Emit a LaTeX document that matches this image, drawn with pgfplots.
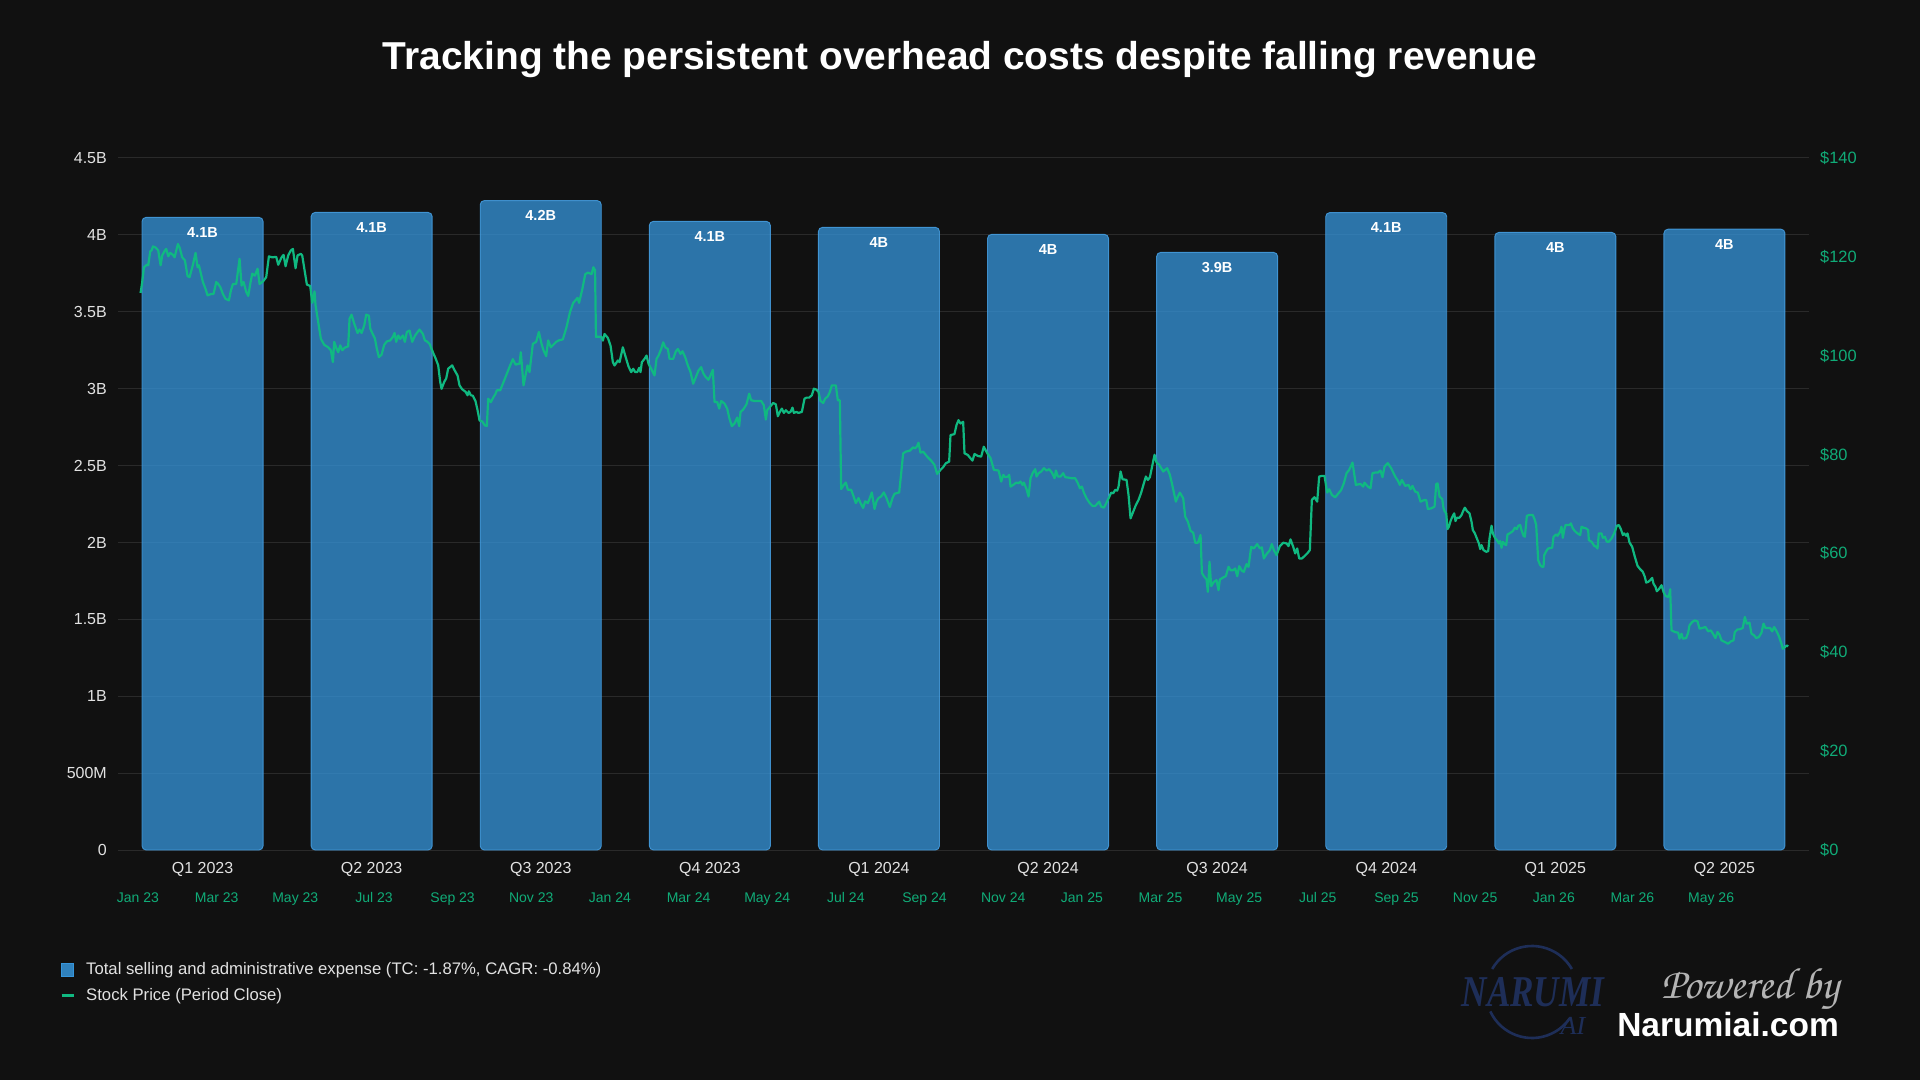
\documentclass[border=0pt]{standalone}
\usepackage{fontspec}
\setmainfont{Liberation Sans}
\newfontfamily\poweredfont{TeX Gyre Chorus}
\newfontfamily\logofont{Liberation Serif}
\usepackage{pgfplots}
\pgfplotsset{compat=1.18}
\usepackage{pgfplotstable}

\definecolor{bg}{HTML}{111111}
\definecolor{gridc}{HTML}{2A2A2A}
\definecolor{barfill}{RGB}{54,150,220}
\definecolor{baredge}{RGB}{70,160,228}
\definecolor{price}{HTML}{10B981}
\definecolor{pricelabel}{RGB}{16,172,120}
\definecolor{ticktext}{HTML}{E2E2E2}
\definecolor{navy}{RGB}{30,46,88}
\definecolor{powered}{HTML}{B4B4B4}

% Daily closing price; x is months since January 2023
\pgfplotstableread{
m p
0.066 112.7
0.108 114.9
0.151 117.9
0.227 118.4
0.261 118.3
0.312 121.1
0.346 121.3
0.380 122.1
0.447 121.9
0.515 121.3
0.575 118.3
0.617 120.3
0.685 121.3
0.719 121.6
0.770 120.1
0.820 120.8
0.888 120.4
0.931 119.9
1.015 122.6
1.058 121.9
1.125 119.9
1.193 119.3
1.261 116.1
1.312 115.9
1.397 118.4
1.464 120.8
1.515 117.9
1.549 118.3
1.651 114.9
1.719 113.5
1.769 112.2
1.863 112.5
1.922 112.5
1.990 114.9
2.041 114.5
2.092 113.9
2.159 112.5
2.227 111.5
2.312 111.2
2.363 113.2
2.414 114.5
2.498 114.5
2.583 119.6
2.634 114.2
2.685 114.9
2.753 112.9
2.804 112.1
2.854 114.5
2.905 116.6
2.973 116.2
3.041 117.6
3.092 114.5
3.176 115.0
3.261 115.9
3.329 120.1
3.414 119.9
3.515 120.0
3.566 118.4
3.651 119.9
3.702 120.4
3.753 118.1
3.820 120.3
3.888 121.3
3.939 121.6
4.007 117.7
4.058 120.3
4.142 120.6
4.176 120.3
4.244 116.9
4.295 114.4
4.380 114.1
4.431 110.7
4.490 113.0
4.515 110.2
4.583 106.8
4.651 103.4
4.736 102.2
4.837 101.7
4.905 101.1
4.956 98.7
4.990 102.8
5.041 101.6
5.092 100.7
5.142 102.1
5.193 101.1
5.253 101.6
5.345 101.9
5.380 107.5
5.431 108.3
5.498 106.5
5.583 104.6
5.634 105.3
5.685 104.6
5.753 106.1
5.803 108.3
5.871 108.1
5.905 105.5
5.956 104.6
6.024 103.5
6.074 101.4
6.125 99.7
6.193 100.2
6.261 102.2
6.329 102.9
6.414 103.1
6.481 103.8
6.524 104.6
6.566 102.8
6.617 104.1
6.668 103.4
6.736 104.1
6.786 102.8
6.837 104.8
6.905 105.1
6.973 102.8
7.041 104.0
7.092 104.6
7.159 105.3
7.244 104.4
7.295 103.1
7.346 102.9
7.413 102.4
7.464 101.4
7.515 100.4
7.566 99.5
7.634 98.05
7.685 94.7
7.719 93.3
7.786 94.7
7.837 95.4
7.888 97.4
7.939 97.7
7.990 98.05
8.041 97.2
8.125 96.0
8.176 94.0
8.244 93.2
8.329 92.7
8.380 92.0
8.413 92.8
8.464 92.0
8.515 91.9
8.583 90.8
8.634 89.0
8.685 86.9
8.753 86.7
8.820 85.9
8.871 85.8
8.905 91.3
8.973 90.6
9.024 91.4
9.092 92.3
9.125 93.0
9.210 93.0
9.261 94.0
9.312 95.0
9.396 96.7
9.464 98.05
9.532 99.3
9.600 98.2
9.701 98.4
9.735 100.7
9.803 94.0
9.871 96.7
9.905 98.05
9.956 96.7
10.040 102.4
10.125 102.8
10.193 104.8
10.261 102.4
10.311 101.1
10.379 99.9
10.430 103.1
10.498 101.7
10.549 102.1
10.633 102.8
10.701 103.1
10.803 103.3
10.897 105.8
10.987 108.9
11.068 110.7
11.177 111.7
11.215 110.7
11.294 113.3
11.373 116.5
11.442 116.8
11.533 116.5
11.579 117.9
11.622 117.3
11.645 103.8
11.677 103.85
11.778 103.85
11.821 103.05
11.863 104.39
11.948 103.6
12.016 102.04
12.075 98.69
12.117 98.02
12.202 99.03
12.245 98.69
12.329 101.7
12.389 100.03
12.473 97.82
12.541 96.68
12.592 97.35
12.643 96.68
12.694 96.68
12.745 97.55
12.778 96.68
12.812 98.69
12.880 99.36
12.931 100.03
12.982 98.36
13.050 97.35
13.134 96.01
13.185 99.36
13.236 100.03
13.304 101.37
13.355 102.71
13.406 101.71
13.473 101.37
13.516 99.36
13.609 99.36
13.677 100.9
13.728 101.37
13.795 100.37
13.846 100.9
13.914 99.7
13.982 98.02
14.050 96.68
14.117 94.33
14.185 95.67
14.253 97.01
14.321 97.68
14.372 96.48
14.423 95.81
14.507 95.14
14.558 96.01
14.617 97.15
14.660 90.64
14.728 90.64
14.779 89.30
14.829 90.85
14.914 90.31
14.982 89.30
15.033 87.49
15.100 85.75
15.168 86.29
15.236 87.49
15.287 85.75
15.321 88.63
15.389 89.10
15.473 90.17
15.541 92.32
15.592 90.98
15.677 90.85
15.761 90.85
15.846 90.85
15.914 89.97
15.965 87.09
15.999 88.97
16.083 89.77
16.151 90.44
16.219 90.17
16.270 87.76
16.321 88.63
16.372 89.30
16.423 88.43
16.473 88.97
16.541 88.43
16.592 88.63
16.643 89.50
16.677 88.43
16.745 88.63
16.795 88.43
16.880 88.63
16.948 91.31
16.999 91.52
17.066 91.52
17.134 91.99
17.185 93.33
17.253 93.13
17.304 92.66
17.355 90.85
17.423 90.44
17.473 91.31
17.541 91.78
17.592 92.66
17.643 94.00
17.745 94.00
17.795 90.98
17.846 90.98
17.880 73.01
17.948 73.88
17.999 74.35
18.050 72.88
18.134 72.88
18.202 71.40
18.253 70.19
18.321 71.20
18.372 70.19
18.439 69.19
18.490 70.53
18.558 70.19
18.592 70.86
18.660 72.34
18.728 68.99
18.779 70.53
18.829 71.20
18.897 71.54
18.965 72.34
19.033 71.20
19.117 69.39
19.185 71.20
19.236 72.07
19.355 72.34
19.406 76.23
19.456 80.25
19.524 80.59
19.626 80.79
19.660 81.06
19.711 81.46
19.762 81.26
19.812 81.73
19.846 82.40
19.897 80.39
19.965 80.59
20.067 79.58
20.168 78.78
20.253 77.90
20.321 76.09
20.406 76.90
20.473 77.44
20.541 78.24
20.626 78.58
20.660 83.94
20.761 84.14
20.812 85.95
20.863 86.96
20.914 86.29
20.982 86.62
21.016 80.25
21.100 79.92
21.168 79.25
21.219 78.78
21.270 80.12
21.355 79.72
21.439 79.58
21.507 81.59
21.594 80.28
21.679 79.27
21.763 76.90
21.882 76.77
21.950 74.54
22.001 75.89
22.051 75.42
22.119 75.55
22.153 75.89
22.187 73.52
22.255 73.86
22.331 74.33
22.390 74.20
22.441 74.54
22.492 73.86
22.526 74.33
22.594 72.98
22.645 71.49
22.695 75.21
22.755 76.36
22.814 77.04
22.848 75.55
22.899 76.23
22.967 76.57
23.035 77.24
23.102 76.77
23.170 77.04
23.238 76.36
23.306 75.21
23.340 76.77
23.390 75.55
23.458 75.55
23.526 76.23
23.577 75.42
23.645 75.35
23.746 75.21
23.831 75.21
23.899 74.20
23.950 73.18
24.001 73.52
24.051 72.30
24.119 71.15
24.204 70.14
24.272 69.60
24.340 69.60
24.441 70.48
24.492 69.46
24.560 69.26
24.611 70.00
24.679 71.15
24.746 72.30
24.797 72.17
24.848 72.85
24.899 72.71
24.933 73.52
24.984 76.57
25.035 75.01
25.136 74.87
25.187 71.83
25.238 67.10
25.306 68.45
25.374 69.80
25.441 70.82
25.509 72.30
25.577 74.20
25.628 75.55
25.679 74.87
25.730 75.42
25.848 79.95
25.899 78.39
25.967 77.92
26.068 76.57
26.119 76.90
26.170 77.24
26.238 75.89
26.289 74.20
26.340 72.30
26.390 70.48
26.441 71.49
26.492 72.30
26.577 71.15
26.628 67.43
26.696 66.42
26.763 64.59
26.831 64.19
26.882 62.16
26.950 62.16
27.018 63.72
27.052 56.07
27.102 55.40
27.170 54.72
27.204 52.22
27.246 58.31
27.289 53.37
27.357 54.25
27.424 54.59
27.475 52.56
27.509 54.72
27.594 55.13
27.662 55.40
27.729 57.29
27.780 56.61
27.848 56.61
27.899 56.95
27.950 55.40
28.001 57.43
28.069 56.48
28.119 56.28
28.187 57.83
28.238 57.29
28.306 61.35
28.374 61.01
28.458 61.89
28.526 61.01
28.577 61.22
28.628 58.98
28.695 59.86
28.780 60.67
28.831 61.89
28.882 60.67
28.950 59.66
29.035 61.48
29.119 62.16
29.204 62.03
29.255 61.48
29.306 62.84
29.374 61.35
29.424 60.00
29.475 61.01
29.526 58.98
29.594 58.98
29.662 59.45
29.746 60.13
29.797 60.67
29.848 70.82
29.916 71.36
29.984 70.48
30.034 75.55
30.102 75.69
30.170 75.69
30.238 72.30
30.289 72.98
30.357 71.83
30.441 71.36
30.526 72.17
30.594 72.85
30.662 74.20
30.730 76.23
30.797 76.90
30.882 78.39
30.967 73.86
31.085 74.06
31.153 73.52
31.187 74.33
31.272 73.52
31.340 73.18
31.390 76.23
31.458 76.36
31.526 76.36
31.594 76.77
31.645 75.42
31.696 77.58
31.780 78.26
31.865 77.24
31.967 75.55
32.035 74.74
32.085 73.86
32.136 74.87
32.221 73.66
32.306 73.86
32.357 72.98
32.407 73.66
32.475 72.51
32.543 72.30
32.611 70.48
32.713 70.82
32.756 70.81
32.798 68.98
32.883 69.12
32.968 69.46
33.010 73.99
33.044 74.19
33.095 71.49
33.163 71.01
33.196 69.12
33.230 68.44
33.264 68.11
33.298 64.93
33.332 65.40
33.383 66.75
33.434 67.63
33.468 68.11
33.501 66.55
33.535 67.23
33.603 67.23
33.654 67.77
33.688 68.44
33.739 69.26
33.790 68.58
33.857 68.11
33.908 66.42
33.942 64.72
33.993 64.05
34.044 63.03
34.095 62.02
34.129 60.87
34.162 61.68
34.213 60.67
34.281 60.33
34.332 60.46
34.366 63.03
34.417 65.60
34.451 64.05
34.501 63.17
34.552 62.70
34.603 62.02
34.637 62.49
34.671 61.14
34.705 62.36
34.756 61.82
34.790 61.68
34.823 63.84
34.874 64.05
34.959 64.52
35.010 65.20
35.061 64.93
35.095 65.60
35.145 65.74
35.179 64.72
35.230 63.57
35.264 63.37
35.315 67.63
35.383 67.77
35.467 67.77
35.518 66.75
35.552 65.74
35.603 58.64
35.654 57.62
35.705 57.29
35.739 57.29
35.756 59.65
35.807 60.46
35.857 61.00
35.959 61.14
35.993 63.37
36.061 63.85
36.095 63.57
36.162 64.39
36.196 65.40
36.230 63.17
36.264 64.72
36.298 65.74
36.400 65.74
36.434 66.08
36.484 65.06
36.535 64.52
36.603 64.05
36.671 63.71
36.705 65.40
36.756 65.20
36.823 65.06
36.874 64.72
36.891 62.70
36.959 62.36
37.027 61.55
37.078 61.34
37.112 61.00
37.145 64.05
37.213 64.05
37.247 63.17
37.298 63.37
37.349 62.36
37.400 62.36
37.468 63.03
37.535 64.05
37.603 65.60
37.654 65.74
37.705 64.93
37.756 63.71
37.790 64.05
37.840 63.57
37.874 64.05
37.925 62.22
37.993 61.34
38.061 59.31
38.129 57.49
38.196 56.81
38.264 56.27
38.315 55.26
38.349 54.11
38.400 54.24
38.451 54.58
38.501 55.05
38.535 53.90
38.586 53.23
38.620 52.35
38.671 52.75
38.739 53.57
38.790 52.21
38.840 51.40
38.908 51.20
38.942 51.87
38.959 52.75
38.993 44.43
39.078 44.10
39.162 43.96
39.196 42.75
39.247 43.76
39.281 42.75
39.366 42.88
39.416 43.96
39.450 45.45
39.518 46.13
39.586 46.46
39.654 46.26
39.705 44.77
39.772 44.91
39.857 45.11
39.925 44.23
39.993 44.44
40.061 43.56
40.111 42.88
40.162 44.10
40.213 43.56
40.264 42.41
40.349 42.07
40.433 41.73
40.501 42.20
40.569 42.41
40.603 44.10
40.671 44.64
40.722 44.64
40.806 44.91
40.857 47.14
40.908 45.79
40.976 45.99
41.027 43.76
41.094 43.42
41.145 42.88
41.213 43.08
41.281 43.96
41.332 45.79
41.383 44.91
41.433 44.91
41.501 44.91
41.552 44.23
41.603 45.11
41.654 44.44
41.722 43.29
41.789 41.73
41.823 40.71
41.874 41.05
41.925 41.39
41.959 41.19
}\pricetable

\begin{document}
\begin{tikzpicture}[x=1pt,y=1pt]
\useasboundingbox (0,0) rectangle (1920,1080);
\fill[bg] (0,0) rectangle (1920,1080);

% Quarterly selling and administrative expense (billions)
\begin{axis}[
  at={(118pt,230pt)}, anchor=south west,
  scale only axis, width=1691pt, height=692pt,
  xmin=-0.5, xmax=9.5, ymin=0, ymax=4.5,
  axis y line*=left, axis x line*=bottom,
  axis line style={draw=none}, major tick length=0pt,
  ymajorgrids, grid style={gridc, line width=1pt},
  ytick={0,0.5,...,4.5},
  yticklabels={0,500M,1B,1.5B,2B,2.5B,3B,3.5B,4B,4.5B},
  xtick={0,...,9},
  xticklabels={Q1 2023,Q2 2023,Q3 2023,Q4 2023,Q1 2024,Q2 2024,Q3 2024,Q4 2024,Q1 2025,Q2 2025},
  /pgf/number format/assume math mode=true,
  yticklabel style={font=\fontsize{16}{19}\selectfont, text=ticktext, inner sep=0pt, anchor=east, xshift=-11pt},
  xticklabel style={font=\fontsize{16}{19}\selectfont, text=ticktext, inner sep=0pt, anchor=base, yshift=-23.7pt},
]
\addplot[ybar, bar width=121pt, fill=barfill, fill opacity=0.75,
  draw=baredge, draw opacity=0.85, line width=0.9pt, rounded corners=4pt,
  nodes near coords, point meta=explicit symbolic,
  every node near coord/.append style={font=\bfseries\fontsize{14.5}{16}\selectfont,
    text=white, text opacity=1, inner sep=0pt, yshift=-20.5pt}]
coordinates {
  (0,4.114) [4.1B]
  (1,4.146) [4.1B]
  (2,4.223) [4.2B]
  (3,4.088) [4.1B]
  (4,4.049) [4B]
  (5,4.003) [4B]
  (6,3.886) [3.9B]
  (7,4.145) [4.1B]
  (8,4.016) [4B]
  (9,4.037) [4B]
};
\end{axis}

% Stock price on the right-hand scale
\begin{axis}[
  at={(118pt,230pt)}, anchor=south west,
  scale only axis, width=1691pt, height=692pt,
  xmin=-0.508, xmax=42.49, ymin=0, ymax=140,
  axis y line*=right, axis x line*=bottom,
  axis line style={draw=none}, major tick length=0pt,
  ytick={0,20,...,140},
  yticklabels={\$0,\$20,\$40,\$60,\$80,\$100,\$120,\$140},
  xtick={0,2,...,40},
  xticklabels={Jan 23,Mar 23,May 23,Jul 23,Sep 23,Nov 23,Jan 24,Mar 24,May 24,Jul 24,Sep 24,Nov 24,Jan 25,Mar 25,May 25,Jul 25,Sep 25,Nov 25,Jan 26,Mar 26,May 26},
  /pgf/number format/assume math mode=true,
  yticklabel style={font=\fontsize{16.4}{19}\selectfont, text=pricelabel, inner sep=0pt, anchor=west, xshift=11pt},
  xticklabel style={font=\fontsize{14}{17}\selectfont, text=pricelabel, inner sep=0pt, anchor=base, yshift=-52.6pt},
  legend cell align=left,
  legend style={at={(axis description cs:-0.0343,-0.161)}, anchor=north west,
    draw=none, fill=none, inner sep=0pt, text=ticktext,
    font=\fontsize{16.7}{20}\selectfont, row sep=10pt, column sep=10pt,
    nodes={inner sep=1pt}},
]
\addlegendimage{legend image code/.code={\fill[barfill, fill opacity=0.85] (0pt,-6.5pt) rectangle (12pt,6.5pt);}}
\addlegendentry{Total selling and administrative expense (TC: -1.87\%, CAGR: -0.84\%)}
\addplot[price, line width=2.2pt, line join=round,
  legend image code/.code={\draw[price, line width=3pt] (0pt,0pt) -- (12pt,0pt);}]
  table[x=m, y=p] {\pricetable};
\addlegendentry{Stock Price (Period Close)}
\end{axis}

% Title
\node[anchor=base, text=white, font=\bfseries\fontsize{38.9}{46}\selectfont] at (960,1010)
  {Tracking the persistent overhead costs despite falling revenue};

% Branding
\draw[navy, line width=2.6pt] (1532,88) ++(150:46) arc[start angle=150, end angle=30, radius=46];
\draw[navy, line width=2.6pt] (1532,88) ++(205:46) arc[start angle=205, end angle=325, radius=46];
\node[anchor=base, text=navy, font=\logofont\bfseries\itshape\fontsize{44}{48}\selectfont, xscale=0.8] at (1533,74) {NARUMI};
\node[anchor=base, text=navy, font=\logofont\itshape\fontsize{26}{28}\selectfont] at (1573,46) {AI};
\node[anchor=base east, text=powered, font=\poweredfont\fontsize{44}{48}\selectfont, inner sep=0pt] at (1839,82) {Powered by};
\node[anchor=base east, text=white, font=\bfseries\fontsize{33.5}{38}\selectfont, inner sep=0pt] at (1839,44) {Narumiai.com};
\end{tikzpicture}
\end{document}
